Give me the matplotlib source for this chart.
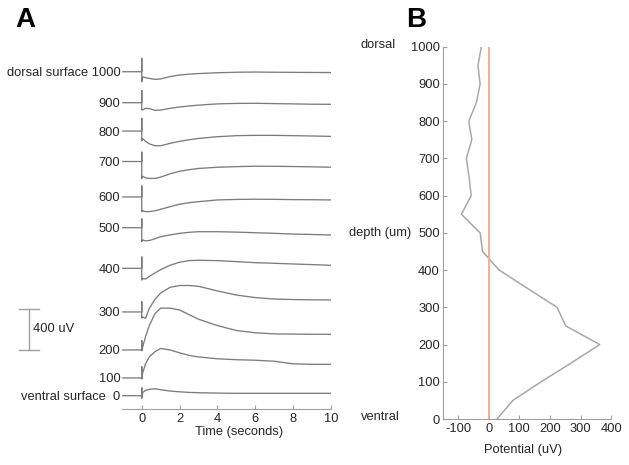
import matplotlib
matplotlib.use("Agg")
import matplotlib.pyplot as plt
from matplotlib.transforms import blended_transform_factory
import numpy as np

plt.rcParams['font.family'] = ['Liberation Sans', 'DejaVu Sans']
plt.rcParams['axes.unicode_minus'] = False

# ---------------- Panel A data ----------------
depth_labels = ["dorsal surface 1000", "900", "800", "700", "600", "500",
                "400", "300", "200", "100", "ventral surface  0"]
depths = [1000, 900, 800, 700, 600, 500, 400, 300, 200, 100, 0]
# baseline offset of each trace (uV, stacked)
offsets = [3161, 2859, 2582, 2285, 1939, 1639, 1243, 817, 446, 173, 0]
# stimulus artifact (up / down, uV) at t = 0
artifact_up = [130, 117, 124, 91, 107, 85, 110, 100, 91, 110, 75]
artifact_down = [98, 72, 95, 166, 145, 135, 115, 60, 7, 10, 27]
# response sampled at these times (s)
t_grid = [0.05, 0.2, 0.4, 0.7, 1.0, 1.5, 2, 2.5, 3, 4, 5, 6, 7, 8, 9, 10]
resp_1000 = [-50, -58, -65, -75, -70, -47, -32, -24, -18, -10, -5, -3, -5, -6, -7, -8]
resp_900 = [-70, -55, -58, -75, -72, -55, -42, -32, -24, -12, -7, -6, -9, -12, -15, -16]
resp_800 = [-75, -100, -125, -143, -143, -120, -100, -85, -72, -55, -45, -42, -42, -45, -48, -52]
resp_700 = [-145, -160, -165, -165, -152, -120, -95, -80, -68, -56, -50, -46, -47, -49, -52, -56]
resp_600 = [-135, -143, -143, -135, -120, -95, -71, -56, -46, -29, -24, -22, -23, -26, -27, -29]
resp_500 = [-120, -128, -125, -108, -88, -70, -55, -45, -39, -39, -43, -49, -55, -62, -66, -71]
resp_400 = [-100, -105, -80, -45, -13, 30, 59, 75, 78, 75, 65, 55, 49, 42, 36, 29]
resp_300 = [-50, -62, 36, 124, 185, 241, 258, 258, 250, 205, 165, 140, 126, 121, 118, 117]
resp_200 = [30, 130, 240, 355, 408, 408, 390, 345, 300, 238, 190, 168, 157, 155, 153, 153]
resp_100 = [50, 140, 205, 257, 288, 273, 245, 220, 205, 187, 178, 173, 163, 138, 133, 133]
resp_0 = [30, 52, 62, 68, 58, 45, 38, 32, 29, 25, 23, 23, 23, 23, 23, 23]
responses = [resp_1000, resp_900, resp_800, resp_700, resp_600, resp_500,
             resp_400, resp_300, resp_200, resp_100, resp_0]
time_ticks = [0, 2, 4, 6, 8, 10]
scale_uV = 400

# ---------------- Panel B data ----------------
profile_depth = [0, 50, 100, 150, 200, 250, 300, 350, 400, 450, 500, 550,
                 600, 650, 700, 750, 800, 850, 900, 950, 1000]
profile_pot = [27, 79, 171, 268, 362, 251, 223, 128, 34, -20, -28, -89,
               -57, -64, -73, -55, -65, -40, -28, -35, -24]
zero_line = 0
b_xticks = [-100, 0, 100, 200, 300, 400]
b_yticks = [0, 100, 200, 300, 400, 500, 600, 700, 800, 900, 1000]

W, H = 629, 465
fig = plt.figure(figsize=(W / 100, H / 100), dpi=100)

def fx(px):
    return px / W

def fy(py):
    return 1 - py / H

trace_col = '#7c7c7c'
axis_col = '#a0a0a0'
text_col = '#262626'
fs = 9.3

# ---------- Panel A ----------
axA_l, axA_r, axA_t, axA_b = 121.7, 331.0, 50.0, 409.0
axA = fig.add_axes([fx(axA_l), fy(axA_b), fx(axA_r - axA_l), (axA_b - axA_t) / H])
for off, up, dn, resp in zip(offsets, artifact_up, artifact_down, responses):
    t = [-1.0, 0.0, 0.0, 0.0] + t_grid
    v = [0, 0, up, -dn] + resp
    axA.plot(t, np.array(v) + off, color=trace_col, lw=0.95)
axA.set_xlim(-1.06, 10)
axA.set_ylim(-130, 3373)
for s in ['top', 'right', 'left']:
    axA.spines[s].set_visible(False)
axA.spines['bottom'].set_color(axis_col)
axA.set_xticks(time_ticks)
axA.tick_params(axis='x', direction='in', length=3, color=axis_col,
                labelsize=fs, labelcolor=text_col, pad=3)
axA.set_yticks(offsets)
axA.set_yticklabels(depth_labels)
axA.tick_params(axis='y', length=0, pad=1, labelsize=fs, labelcolor=text_col)
axA.set_xlabel("Time (seconds)", fontsize=fs, color=text_col, labelpad=1)
axA.xaxis.set_label_coords((239 - axA_l) / (axA_r - axA_l), -0.045)
axA.xaxis.label.set_va('center')
axA.xaxis.set_label_coords((239 - axA_l) / (axA_r - axA_l),
                           -(432 - axA_b) / (axA_b - axA_t))
axA.patch.set_alpha(0)

# scale bar
trA = blended_transform_factory(fig.transFigure, axA.transData)
base = offsets[depths.index(200)]
axA.plot([fx(29.3), fx(29.3)], [base, base + scale_uV], color=axis_col, lw=1,
         transform=trA, clip_on=False)
for yy in [base, base + scale_uV]:
    axA.plot([fx(19), fx(39)], [yy, yy], color=axis_col, lw=1,
             transform=trA, clip_on=False)
axA.text(fx(33), base + scale_uV / 2, "400 uV", transform=trA, fontsize=fs,
         color=text_col, va='center', ha='left')

fig.text(fx(15), fy(20), "A", fontsize=20, fontweight='bold', va='center', ha='left')

# ---------- Panel B ----------
axB_l, axB_r, axB_t, axB_b = 443.3, 611.4, 46.7, 419.0
axB = fig.add_axes([fx(axB_l), fy(axB_b), fx(axB_r - axB_l), (axB_b - axB_t) / H])
axB.plot(profile_pot, profile_depth, color='#a8a8a8', lw=1.1)
axB.axvline(zero_line, color='#f5ab9c', lw=1.4)
axB.set_xlim(-148, 400)
axB.set_ylim(0, 1000)
for s in ['top', 'right']:
    axB.spines[s].set_visible(False)
for s in ['left', 'bottom']:
    axB.spines[s].set_color(axis_col)
axB.set_xticks(b_xticks)
axB.set_yticks(b_yticks)
axB.tick_params(direction='in', length=3, color=axis_col, labelsize=fs,
                labelcolor=text_col)
axB.tick_params(axis='y', pad=2.5)
axB.tick_params(axis='x', pad=3)
axB.set_xlabel("Potential (uV)", fontsize=fs, color=text_col)
axB.xaxis.label.set_va('center')
axB.xaxis.set_label_coords((522.7 - axB_l) / (axB_r - axB_l),
                           -(450 - axB_b) / (axB_b - axB_t))

trB = blended_transform_factory(fig.transFigure, axB.transData)
axB.text(fx(378), 1005, "dorsal", transform=trB, fontsize=fs, color=text_col,
         ha='center', va='center')
axB.text(fx(380), 500, "depth (um)", transform=trB, fontsize=fs, color=text_col,
         ha='center', va='center')
axB.text(fx(380), 5, "ventral", transform=trB, fontsize=fs, color=text_col,
         ha='center', va='center')

fig.text(fx(406), fy(20), "B", fontsize=20, fontweight='bold', va='center', ha='left')

fig.savefig("out.png", dpi=100)
